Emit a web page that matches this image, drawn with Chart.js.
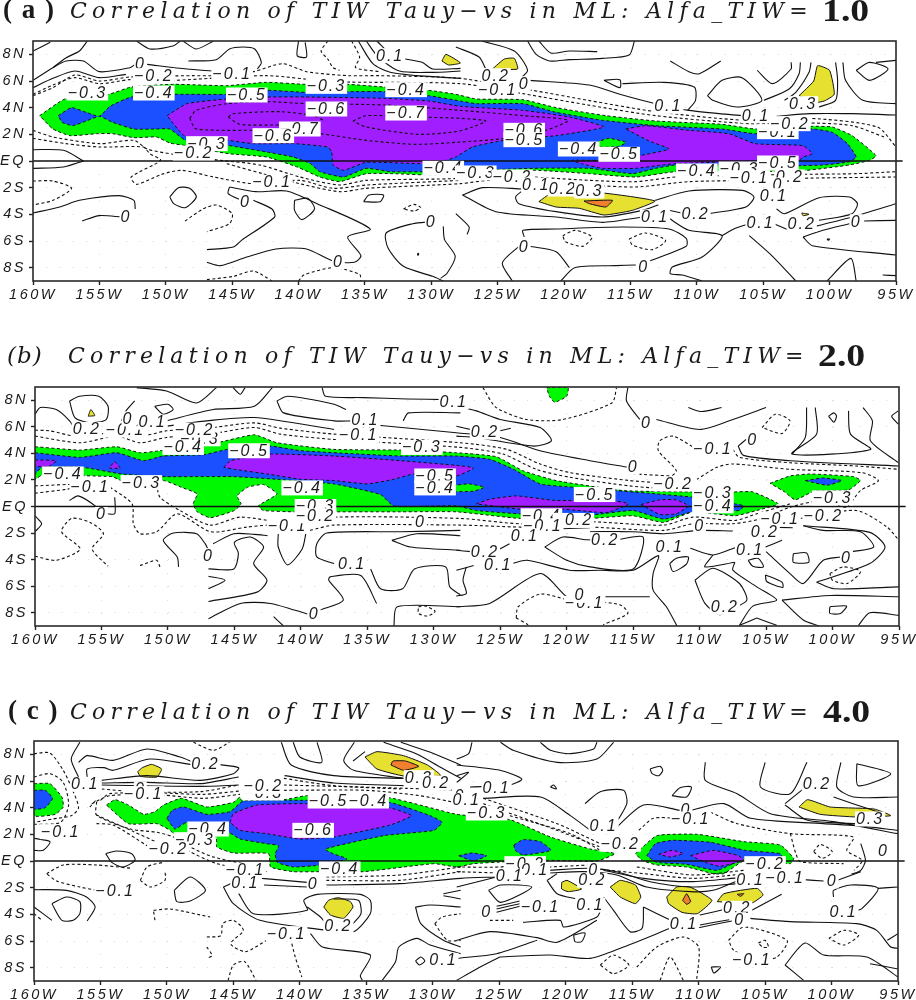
<!DOCTYPE html>
<html><head><meta charset="utf-8">
<script src="https://cdn.jsdelivr.net/npm/chart.js@4"></script>
<style>html,body{margin:0;padding:0;background:#fff;width:916px;height:1000px;overflow:hidden}
canvas{position:absolute;left:0;display:block}</style></head>
<body>
<canvas id="pa" width="916" height="315" style="top:0"></canvas>
<canvas id="pb" width="916" height="316" style="top:340px"></canvas>
<canvas id="pc" width="916" height="310" style="top:690px"></canvas>
<script>
const lonTicks=[160,155,150,145,140,135,130,125,120,115,110,105,100,95];
const latTicks=[8,6,4,2,0,-2,-4,-6,-8];
const latTickLabels=['8N','6N','4N','2N','EQ','2S','4S','6S','8S'];
const eqLine=[160,0,94.5,0];

// ---------- panel (a) ----------
const aTitle=['( a )','Correlation of TIW Tauy\u2212vs in ML: Alfa_TIW=','1.0'];
const aGreen=[[159.5,3.4,157.6,4.65,154.3,5.0,152.6,5.55,149.4,5.75,145.4,5.65,142.4,5.9,139.5,5.75,136.3,5.75,133.6,5.55,130.2,5.3,128.15,5.0,126.6,4.65,123.1,4.6,120.6,4.0,116.85,3.4,113.1,3.0,108.1,2.75,105.6,2.4,101.3,2.6,99.8,2.55,98.3,1.9,96.5,0.4,97,0.05,98.5,-0.3,102.3,-0.75,111.6,-0.8,114.6,-1.2,118.1,-0.95,122.25,-0.7,130,-1.05,132.9,-0.95,134.9,-0.95,136.9,-1.55,138.4,-1.2,140.1,-0.45,142.4,0.3,145.3,0.55,148.5,1.15,149.7,1.35,150.7,1.8,152.4,1.75,154,2.05,155.2,2.05,157.2,1.9,158.5,2.4]];
const aBlue=[[158.1,3.4,157.1,4.0,156,3.65,155,3.35,154.2,4.1,152.6,4.8,149.4,5.0,145.4,5.0,142.4,5.3,139.5,5.15,136.3,5.2,133.5,5.2,130.2,4.9,127.8,4.5,126.6,4.3,123.1,4.3,120.6,3.65,117.1,3.05,113.1,2.65,108.1,2.4,105.6,2.05,101.3,2.4,99.8,2.15,98.65,1.3,98,0.3,98.5,-0.05,100.5,-0.3,102.3,-0.35,111.6,-0.3,113.1,-0.55,114.85,-0.95,118.1,-0.55,122.25,-0.55,130,-0.8,133.1,-0.8,134.9,-0.55,136.6,-1.2,138.4,-0.8,139.1,-0.2,140.4,0.3,142.4,0.67,145.3,1.17,148.5,1.55,149.7,2.4,150.7,2.4,152.4,2.4,154,2.9,155,3.35,156,3.0,157,2.65,157.8,2.9]];
const aPurple=[[149.9,3.4,148.4,4.3,145.4,4.65,142.4,4.8,139.5,4.8,133.5,4.7,130.2,4.5,127.8,4.1,123.1,3.8,119.6,3.3,117,2.55,120.6,1.9,124.5,1.55,126.9,1.05,128.15,0.3,128.9,0.05,130.5,-0.2,134.9,-0.1,136.6,-0.7,137.4,-0.3,137.5,0.67,137.8,1.05,140.3,1.3,143.4,1.3,145.3,1.55,148.6,1.9],[115.35,2.4,113.85,2.65,110.6,2.3,107.6,2.05,105.6,1.3,102,1.15,101.3,0.55,102,0.3,102.3,0.05,105.6,0,111.6,-0.2,112.6,-0.3,114.6,-0.55,117.1,-0.55,118.7,-0.2,119.4,0.05,117.35,0.05,114.35,0.4,112.1,0.9,113.6,1.5]];
const aGreenTop=[[117.6,1.4,116.6,1.7,115.35,1.4,115.85,1.1,117.35,1.05]];
const aYellow=[[125.4,6.9,124.5,7.65,123.75,7.7,123.5,6.9],[129.2,7.5,128.9,8,127.8,7.35,128.7,7.2],[102.3,4.9,101.2,6.0,100.9,7.15,100,6.8,99.65,5.0,100.4,4.5,101,4.4],[121.9,-3.05,121,-2.45,117.1,-2.4,113.15,-3,114.85,-3.7,117,-4.05,118.85,-3.55,120.6,-3.45],[102.1,-3.9,101.55,-4.0,102,-4.1]];
const aOrange=[[118.5,-3,116.35,-2.95,116.85,-3.45,118.1,-3.2]];
const aSolid=[
[160,6.05,158.5,7.0,157.5,7.5,156.2,7.5,155,6.7,152.7,7.0,152.3,7.25],[151.4,7.25,148.4,6.9,146.5,6.75],
[160,8.25,158.7,8.9],[158.5,7,157.5,7.75,156.5,8.25,155.9,9],[152.2,9,151.2,8.4,149.4,8.65,148.9,9],[148.7,9,147.7,8.4,146.4,9],
[148.3,7.5,146.2,7.6,145.2,8.4,144.2,8.55,143.3,8.4,142.8,7.4,143.1,6.9],[140,9,140.1,7.9,139.4,7.8,139.5,8.9],
[135.5,9,134.4,7.3,133.1,6.65,131.1,6.4,127.8,6.2],[134.9,9,134,7.8,132.4,6.75,129.9,6.65,127.8,6.75],[134.1,9,132.9,7.9,130.7,7.4,129.9,6.9,127.8,6.95],[128.15,8.55,126.4,7.8,125.9,6.9],
[160,5.5,158.5,6.2,156.85,6.75,155,6.25,153,6.5],
[122.75,9,122.1,8,121.1,7.5,119.6,7.6,117.1,7.7,115.1,7.95,114.7,9],[121.9,9,121,8.1,119.6,8.25,117.5,8.2],[126.2,9,123.75,8.25,122.75,6.8,123.4,6.1],
[122.6,6.05,118.1,5.7,115.6,4.95,113.1,4.3,110.6,3.8,106.6,3.4,105.5,3.3],[104,3.35,101.5,3.55,98.3,3.55,95,3.45],
[112,7.5,110.6,6.7,109.8,6.55,108.2,7.5],[115.6,5.8,112.5,5.9,110.2,5.55,110.1,4.55,110.7,3.8],
[105.45,6.8,104.3,5.8,102.9,6.9,102.9,7.4],[104.95,4.55,103.05,5.4,102.3,6.55,102.2,7.4],[103.4,4.55,102.55,5.15,101.55,6.65,101.4,7.4],
[99.55,7.4,99.4,6.05,99.55,4.55,100.8,4.05],[99,7.4,98.8,6.05,97.5,4.55,95,4.3],[96.5,7.4,95,7.55],
[156.2,0,157.7,0.8,160,0.85],[156.2,0,157.7,-0.45,160,-0.55],
[160,-3.9,158,-3.45,156.5,-2.95,153.5,-2.6,152.4,-2.95,152.3,-3.6],[156.3,-4.5,155,-4.1,153.3,-4.2],
[145.2,-1.95,145.3,-2.45,144.3,-2.95],[143.4,-2.95,142,-3.6,141.8,-4.2,144.3,-5.95,144.9,-6.45,146.9,-6.65],
[145.2,-1.95,143.2,-2.3,140.9,-2.25,138.6,-3.2,134.6,-5.1,136.3,-5.7,135.3,-7.1,135.8,-7.6,137.4,-7.5,139.4,-6.6,141.7,-6.6,143.9,-7.2,145.9,-7.85,146.9,-7.6],
[130,-4.55,131.4,-4.7,133.4,-5.4,133.25,-6.55,132.1,-7.9,129.9,-8.65,129.1,-9],[129.1,-4.9,129,-5.9,128.2,-7.15,128.8,-8.4,129.3,-8.8],
[127.65,-2.55,126.15,-2,123.1,-2.1],[127.65,-2.55,125.15,-3.8,120.6,-4.2,117.1,-4.6,114.1,-4.2],[123.1,-2.2,123.65,-2.7,123.4,-3.2,120.6,-3.8,117.1,-4.2,114.1,-3.7,112.9,-3.3],
[112.1,-3.7,110.9,-3.95],[109.1,-3.95,106.3,-3.45,105.7,-2.7,106.55,-2.2,110.6,-2.25,113.15,-2.95],
[112.1,-4.3,110.6,-5.2,108.1,-5.6,109.6,-7.2,111.85,-7.95,112,-8.45,111.1,-8.55,109.6,-9],[108.1,-5.6,107.1,-5.05,106.05,-4.7],
[104.2,-4.7,103.05,-5.2],[104,-3.6,103.4,-3.95,100.8,-2.75,98.5,-2.7,97.9,-3.2,98.3,-3.95,100.8,-4.45],[102.3,-5.2,98.3,-4.2,95,-3.2],
[102,-5.7,100.5,-5.2,98.5,-4.7],[97.4,-4.5,95,-4.45],[102,-5.7,101.3,-6.35,95,-7.05],
[106.05,-5.6,104.3,-7.15,102.55,-9],[100.2,-9,98.4,-7.3,98,-9],[96,-8.55,95,-8.6],
[123,-5.7,123.1,-5.2,120.6,-5.1,115.6,-4.95,112.1,-5.1,110.8,-5.8,110.8,-6.4,114.1,-7.7],[114.6,-7.8,116.1,-7.85,119.2,-8,120.25,-9],[122.6,-6.4,120.6,-6.8,119.6,-8],
[123.9,-9,124.65,-7.65,123.4,-6.4],[128.15,-3.95,127.15,-4.95,127.3,-5.5]
];
const aLoops=[[149.7,-2.7,149.05,-2,148.2,-2.05,147.7,-2.7,148.55,-3.5,149.4,-3.2],[140.3,-2.95,139.3,-2.8,138.8,-3.6,139.75,-4.4,140.3,-3.7],[135.1,-3.05,134.7,-2.55,133.6,-2.55,133.85,-3.05],[117,6.05,115.8,6.1,115.8,5.5],[109.2,4.9,108.1,6.05,106.6,6.25,105.1,4.55,107,4.05,108.8,4.55],[98,6.8,97,7.4,95.6,6.9,97,6.05],[131.05,-7,131,-6.93,130.95,-7,131,-7.07],[100.2,-5.85,100,-5.85,100.1,-5.95]];
const aDashed=[
[160,5.0,158.5,5.7,156.85,6.25,155,5.8,152.7,6.1,149.4,6.05,142.4,6.4,137.4,5.95,127.8,5.8,123.1,5.05,118.2,4.2,113.1,3.4,106,2.8,101.5,2.85,98.3,2.65,95.9,1.8],
[160,4.9,158.5,5.5,156.85,6.45,155,6.0,152.7,6.3,148,6.4,146.4,6.4,143.4,6.7,141.2,7.3,139.4,6.7,136.3,6.4,133.9,6.4,127.8,6.2,123.4,5.4,122.4,5.3,118.2,4.55,113.1,3.7,106.3,3.05,101.5,3.2,96.4,2.55,95,1.05],
[148.2,3.2,147.7,3.8,145.4,4.3,142.4,4.45,139.4,4.3,133.5,4.2,127.8,3.8,123.1,3.4,119.7,3.05,121.4,2.3,124.4,1.7,128.15,1.4,131.2,1.25,134.9,1.55,138.4,2.05,141.4,2.3,147.7,2.4,148.2,3.2],
[145.3,3.3,144.9,3.55,141.4,3.7,138.9,3.4,138,3],[145.3,3.3,144.4,2.75,141.4,2.7],
[135.9,3.0,134.9,3.4,131.2,3.3,127.8,3.2,125.9,3.0,126.9,2.55,128.15,2.2,131,2,134.9,2.55,135.9,3],
[160,2.3,158.5,1.8,155,1.3,152.4,1.55,151.4,0.9,149.4,0.5,145.9,0.05,142.9,-0.3,139.9,-1.2,136.9,-1.8,134.9,-1.45,127.8,-1.3,125.6,-0.95,122.25,-1.2,118.1,-1.45,114.6,-1.55,111.6,-1.2,105.6,-1.05,102.3,-1,98,-0.95,95,-0.8],
[160,1.7,157.5,1.3,155,1.05,151.7,1.05,151.2,0.55,150.4,0.05,152.6,-1.2,152.2,-1.75,150.3,-1,148.8,-0.7,146.4,-1.2,143.4,-1.7,139.9,-1.45,137.4,-2.05,134.9,-1.8,127.8,-1.45],
[145.4,-0.2,142.7,-0.95,139.9,-1.7,136.9,-2.3,134.9,-2.05,127.8,-1.7,125.6,-1.45,122.25,-1.55,118.1,-1.8,114.6,-1.95,110.6,-1.55,105.6,-1.45,102.3,-1.3,95,-1.2],
[160,-1.5,158.5,-1.5,157.1,-2.05,158.5,-2.95,160,-3.3],[148.55,-4.5,147.2,-3.6,146.2,-3.3,145,-3.95,145.2,-4.7,146.9,-5.3],
[146.9,-8.9,144.9,-8.65,143.4,-8.25,142,-9],[140,-9,139.6,-8.55,137.4,-8,135.4,-8.5,135.3,-9],[137.8,9,138.3,8.25,137.8,7.65,137.4,7,136.9,6.8],[136,9,135.4,7.8,135.7,7,133.9,6.7]
];
const aDashLoops=[[132.1,-3.6,131.3,-3.25,130.8,-3.5,131.3,-3.75],[120.1,-5.6,119.2,-5.2,117.9,-5.7,118.6,-6.4,119.9,-6.05],[115.1,-5.85,113.9,-5.4,112.35,-5.95,113.35,-6.65,114.85,-6.3]];
const aLabels=[[151.9,7.3,'0'],[150.9,6.4,'-0.2'],[145,6.5,'-0.1'],[155.9,5.1,'-0.3'],[150.9,5.1,'-0.4'],[143.9,4.95,'-0.5'],[137.9,5.6,'-0.3'],[137.9,3.9,'-0.6'],[131.9,5.35,'-0.4'],[131.9,3.6,'-0.7'],[139.9,2.4,'-0.7'],[141.9,1.9,'-0.6'],[146.9,1.3,'-0.3'],[147.9,0.6,'-0.2'],[133.1,7.9,'0.1'],[142,-1.6,'-0.1'],[144,-3.05,'0'],[153,-4.2,'0'],[130,-4.55,'0'],[137,-7.55,'0'],[129.1,-0.55,'-0.4'],[125.15,6.4,'0.2'],[123,5.8,'0'],[125,5.35,'-0.1'],[112.15,4.1,'0.1'],[105.55,3.4,'0.1'],[102,4.3,'0.3'],[103.9,2.2,'-0.1'],[103,2.8,'-0.2'],[123,2.3,'-0.6'],[123,1.6,'-0.5'],[118.9,0.9,'-0.4'],[115.85,0.5,'-0.5'],[106.8,-0.6,'-0.3'],[110,-0.75,'-0.4'],[103.9,-0.15,'-0.5'],[103,-1.2,'0.2'],[106.05,-1.25,'-0.1'],[103.9,-1.8,'0'],[104.2,-2.6,'0.1'],[126.65,-0.9,'-0.3'],[123.9,-1.2,'-0.2'],[122.1,-1.8,'0.1'],[120.1,-2.1,'0.2'],[118.1,-2.25,'0.3'],[113.15,-4.2,'0.1'],[110.1,-4,'0.2'],[105.2,-4.65,'0.1'],[102.1,-4.75,'0.2'],[98,-4.55,'0'],[123,-6.45,'0'],[114,-7.95,'0']];

// ---------- panel (b) ----------
const bTitle=['(b)','Correlation of TIW Tauy\u2212vs in ML: Alfa_TIW=','2.0'];
const bGreen=[[160,4.5,156.6,4.25,153.85,4.5,152.1,4.05,150.6,4.2,147.3,4.65,146.3,4.8,143.5,5.4,141.8,4.8,137.5,4.3,132.5,4.25,128.3,4.05,125.3,3.75,123.3,2.7,120.8,1.95,115.75,1.2,110.7,1.1,107.35,1.1,106,1.1,104.1,0.2,105.7,-0.3,107.35,-0.7,110.5,-0.4,112.7,-1.2,115,-0.7,118.25,-0.9,123.5,-0.9,128.3,-0.4,132.5,-0.4,137.3,-0.4,140.5,-0.4,142.8,-0.3,143.2,0.05,141.8,0.95,142.8,1.65,144,1.45,144.8,0.8,144.5,0.2,145,-0.3,146.8,-0.85,147.8,-0.4,148.1,0.2,147.8,0.95,149,1.45,150.3,1.95,153.5,1.95,154.2,2.25,159.5,2.35,160,2.05],[121.5,8.95,119.9,8.95,120,8.3,120.9,7.85,121.3,8.3],[104.7,1.75,103.2,2.3,101.7,2.45,98.4,2.25,97.9,1.95,98.8,1.25,101.4,1.15,102.8,0.5,103.6,1.1]];
const bBlue=[[160,4.05,156.6,3.7,153.85,4.05,151.85,3.45,150.35,3.8,147.3,3.9,145.55,4.3,142.3,4.55,140,4.2,132.5,3.8,128.3,3.8,125.8,3.55,124,2.8,122,1.7,119.5,1.45,113.25,0.95,110.5,0.7,107.35,0.2,106.7,0.05,107,-0.3,110.5,-0.4,112.7,-0.95,115,-0.3,118.25,-0.65,123.5,-0.55,126.8,-0.3,128.3,0.05,133,0.02,134,0.9,137.5,1.7,141.8,2.05,145.1,2.25,150.1,2.25,153.5,2.45,156.4,2.95,159.5,2.95,160,2.45],[102.05,1.95,100.7,2.15,99.3,1.95,100.4,1.6]];
const bPurple=[[160,3.5,158.4,3.45,159,3,160,3.05],[154,3.4,153.6,2.9,154.4,2.9],[145.8,2.95,145.3,3.45,142.3,3.95,137.5,3.8,132.5,3.45,128.3,3.1,127,2.9,128.3,2.3,131.5,2.45,133,2.05,135,1.7,137.5,1.95,140,2.05,142.55,2.45,145,2.8],[126.8,0.2,125.8,0.55,123.8,0.8,120.8,0.45,117,0.5,115.35,0.2,117,-0.45,120.3,-0.2,123.5,-0.2],[114.4,0.15,113,0.5,111.75,0.5,110.85,0.05,111.75,-0.55,113,-0.6]];
const bGreenTop=[[129,1.55,127.3,1.7,126.2,1.45,127,1.15,129,1.15]];
const bYellow=[[156,6.8,155.8,7.3,155.5,6.85]];
const bOrange=[];
const bSolid=[
[160,6.95,159.6,7.45,158.4,7.3,157.4,6.45,157,5.8],[157.4,7.95,156.65,8.3,155.2,8.3,154.5,7.55,154.65,6.55,155.85,6.3,157,6.7,157.4,7.95],[153.5,6.45,153.15,7.2,152.5,7.95],
[152.35,8.95,150.1,8.7,147.85,7.8,146.35,8.95],[150.1,6.45,146.6,7.3,143.5,7.55,142.15,8.95],[145.1,8.95,144.55,8.45,144.2,8.95],
[141.8,7.95,141.3,7.05,137.5,6.45,136.05,6.45],[141.8,7.95,141,8.3,137.5,7.7,136.6,7.3],[138.4,8.95,138.15,8.3,135.3,8.2,132,8.1,129,8.05],[132.3,6.45,131.9,7.05,128,7.05],[134.95,6.2,128.3,5.55,125,5.2,122,4.2,118.25,3.45,115.35,2.95],[150.1,6.05,147.1,6.45,143.5,6.7,137.5,5.8],
[128.3,7.55,126.8,7.2,125,6.55,122,5.95,121.15,4.95,122.5,4.55,126.8,5.2,128.3,5.3],[128.3,6.05,127,5.75],[125,5.7,124.2,5.9],
[115.4,8.95,115.5,7.95,114.5,6.55],[113.25,6.55,110,5.8,107.5,6.55,105,7.45],[110.85,7.45,109.85,7.15,108.35,7.45],
[103.05,3.95,102.05,5.2,101.95,7.45],[101.3,7.45,101.2,5.45,103.05,3.95,97.15,4.3,98.65,5.45,98.8,7.2],[97.7,7.45,97,6.45,97.15,4.95,95.05,3.3],[95.05,7.2,95.55,6.8,95.05,6.2],
[107.1,4.55,106.7,3.85,103.2,3.45,95,3.05],[107.1,4.55,106.5,5.05],
[157.4,0.45,156.75,0.8,155.35,-0.05,155.1,-0.5],[154.6,-0.55,154,-0.55,154,0.7],[160,-0.7,159.5,-1.3,160,-1.9],
[149.2,-4.55,149.3,-3.8,150.35,-2.55,149.6,-2,147.85,-2.05,147.2,-2.8,146.95,-3.3],[146.6,-2.8,145.05,-2.05,143.5,-2.1,142.5,-2.2],
[146.95,-4.7,145.05,-4.7,144.7,-3.55,145,-2.7,143.8,-2.3,142.8,-3.05,143.55,-4.3,142.55,-5.55,143.3,-6.45,146.95,-7.15],[146.95,-5.25,145.7,-5.55,146.95,-6.2],
[146.95,-8.45,144.55,-7.3,142.3,-7.3,139.5,-8.1],[138.55,-7.8,136.8,-7.05,137.9,-5.55,137.8,-5.3,135.5,-5.2,134.3,-7.3],
[141.7,-2.05,141.7,-3.05,141,-4.4,139.9,-3.2,139.6,-1.9],[137.5,-4.3,138.8,-3.8,138.8,-2.8,138.05,-2,132.5,-1.9,128,-1.8],
[134.75,-4.7,134,-6.2,132.35,-6.2,131.45,-4.7,129.1,-4.55,128.8,-6.05,128,-6.65],[133,-9,132.75,-7.55,128,-7.55],[133.15,-2.55,131.3,-2.05,128,-2.2],[133.15,-2.55,131.75,-3.05,128,-3.3],[141.3,-9,142.05,-8.3],
[128.3,-3.3,127.2,-3.4],[125.2,-3.3,124.3,-2.8],[128.3,-4.8,127,-4.45],[124.15,-4.3,123,-4.05,119.8,-4.8,117.5,-4.8,115,-4.8,113.1,-3.7,113.5,-5.05,113.5,-6.3,112.5,-7.55,111.7,-9],
[128.3,-7.55,125.8,-7.3,122,-5.05,120,-6.8,119.4,-6.8],[127.55,-4.55,127.8,-5.55,127.55,-6.55,128.3,-6.75],[118.65,-6.9,117,-6.8,113.75,-6.8],
[110.7,-3.15,109,-3.65,107.2,-3.05],[109,-3.65,109.6,-4.55,107.35,-4.2],[107.35,-4.2,107.5,-4.8,105.7,-6.05,104.2,-7.05,106,-7.5,107,-8.95],[105.7,-8.4,104.2,-8.95],[107,-8.95,105.7,-8.4],
[105.05,-3.05,103.8,-2.55],[105,-3.4,103.2,-5.05,102.2,-5.8,100.7,-4.05,99.4,-3.8],[102.2,-1.45,100.7,-1.8,97.9,-1.9,96.9,-3.05,98.5,-3.4],[101.2,-5.7,97.2,-4.3,96.05,-3.05,97.2,-1.95,102.2,-1.45],
[103.8,-7.05,102.2,-8.55,101,-9],[103.8,-7.05,100.2,-6.7,95,-6.8],[101.2,-5.7,99.9,-6.2,95,-6.05],[98.05,-8.95,97.2,-8,95,-8.2],
[118.25,-1.6,123.5,-1.8],[107.5,-1.85,110,-1.8,112.7,-2.05,115,-1.9,118.25,-1.9],[105.05,-1.55,103,-1.6]
];
const bLoops=[[151,7.55,150,7.7,149.6,7.3,150.35,6.95],[100.3,6.8,99.9,7.05,99.7,6.8,99.9,6.35],[121.65,-3.05,120.3,-2.3,118.5,-2.5,116.25,-2.5,114.25,-2.3,115,-4.7,118.25,-4.55,120,-4.05],[112.25,-4.3,111.75,-3.9,110.85,-3.8,111,-4.35,112,-4.9],[110.35,-5.55,109,-4.65,107,-5.8,106.45,-7.05,107.5,-7.7,108.5,-8.15,109.6,-7.3],[106.35,-4.05,105.6,-3.9,105.2,-4.55,106,-4.5],[105.05,-5.15,103.8,-5.7,103.75,-6.1,104.95,-5.65],[102.95,-3.55,101.95,-3.5,101.8,-4.2,102.95,-4.2],[100.2,-7.55,98.95,-7.5,99.4,-8.05,100.2,-8.05]];
const bDashed=[
[160,5.75,158.9,5.7,157,5.3,155.1,5.45,153.85,5.75,152.1,5.3,150.1,5.7,146.6,5.95,143.5,6.3,141.55,5.9,137.5,5.45,128,4.8,124.5,4.3,122,3.2,119.75,2.55,115.25,1.95,113.2,1.8],
[160,5.3,156.6,4.8,153.85,5.3,152.1,4.8,150.1,5.2,146.6,5.5,143.5,5.95,141.55,5.45,137.5,5.05,128,4.45,124.8,3.95,122.3,2.8,119.75,2.2,115.25,1.55,110.7,1.2],
[160,1.55,156.6,1.7],[160,1,157.6,1.3,156.5,1.5],[154.35,1.45,152.7,0.2,152.6,-1.3,152.1,-2.05,150.85,-1.9,149.3,-0.55,146.8,-1.9,144.05,-1.55,142.55,-1.4],
[150.85,1.7,150.6,0.7,149.1,-0.3,146.8,-1.4,144.55,-0.8,140.5,-1.3,137.3,-0.8,128,-0.9,123.5,-1.3,118.25,-1.15,112.7,-1.4,110.5,-0.8,107.35,-1.05,105.7,-0.55,103.2,0.2],
[139.3,-1.8,137.5,-1.4,128,-1.4,123.5,-1.55,118.25,-1.55,112.7,-1.8,110.5,-1.3,107.5,-1.3,105.3,-0.9,103.2,-0.05,100.7,0.45,99,-0.05,97.9,1.2,96.55,1.95,97.8,2.55,103.2,2.8,107.5,3.2,108.7,2.95,110.2,2.05],
[102.45,-0.9,98.2,-0.3,95.9,-1.55,95,-2.55],[110.2,4.3,112,5.3,113,4.95,113.1,4.2,111.75,2.7,112.2,2.2],[115,2.45,112.2,2.3],
[107.5,4.3,107,3.7,103.2,3.3,98.2,3.05,95,2.8],
[160,-3.75,158.4,-4.05,156.6,-3.2,158,-1.9,157.25,-0.9,155.85,-1.2,154.85,-2.05,155.7,-3.2,154.5,-4.5],[152.1,-4.45,150.85,-4.05,150.6,-4.55],
[126.3,8.95,125.3,7.45,123,6.55,120.3,6.55,116.6,7.8,116.25,8.95],[123.8,-8.4,123.65,-7.55,122,-6.6,120,-7],[123.8,-8.4,122.9,-8.9],[118.5,-7.1,116,-7.4,115.4,-8.05,117.25,-8.9]
];
const bDashLoops=[[131.15,-7.55,130.65,-7.5,129.9,-7.9,130.5,-8.25,131.15,-8.05],[105.3,5.95,104.3,6.95,103.2,6.45,103.8,5.5],[100.2,-5.05,99.2,-4.55,97.9,-4.9,98.9,-5.8,100,-5.55]];
const bLabels=[[156.1,5.8,'0.2'],[153.2,5.75,'-0.1'],[153,6.6,'0'],[151.15,6.35,'0.1'],[147.6,5.1,'-0.3'],[148,5.75,'-0.2'],[148.85,4.45,'-0.4'],[143.9,4.2,'-0.5'],[135,5.8,'0'],[135.15,6.5,'0.1'],[135.65,5.35,'-0.1'],[128.5,7.9,'0.1'],[130.9,4.45,'-0.3'],[129.9,2.3,'-0.5'],[129.9,1.4,'-0.4'],[139.9,1.4,'-0.4'],[157.9,2.45,'-0.4'],[155.85,1.5,'-0.1'],[152,1.8,'-0.3'],[155,-0.6,'0'],[146.95,-3.7,'0'],[141,-1.5,'-0.1'],[138.9,0,'-0.3'],[138.9,-0.7,'-0.2'],[131,-1.2,'0'],[136.15,-4.3,'0.1'],[139,-8.1,'0'],[126.15,5.6,'0.2'],[115,2.95,'0'],[114,6.3,'0'],[109,4.3,'-0.1'],[106,5,'0'],[112,1.7,'-0.2'],[109,1,'-0.3'],[109,0.05,'-0.4'],[117.9,0.9,'-0.5'],[100,0.65,'-0.3'],[100.7,-0.75,'-0.2'],[103.95,-0.95,'-0.1'],[105.1,-1.9,'0.2'],[110,-1.5,'0'],[121.9,-0.7,'-0.4'],[119.5,-1.05,'-0.2'],[121.8,-1.5,'-0.1'],[123.15,-2.2,'0.1'],[117.1,-2.5,'0.2'],[112.25,-3.05,'0.1'],[106.2,-3.3,'0.1'],[98.95,-3.85,'0'],[126.15,-3.4,'0.2'],[125.15,-4.4,'0.1'],[118.65,-7.3,'-0.1'],[119,-6.7,'0'],[108.1,-7.6,'0.2']];

// ---------- panel (c) ----------
const cTitle=['( c )','Correlation of TIW Tauy\u2212vs in ML: Alfa_TIW=','4.0'];
const cGreen=[[160,5.8,158.8,5.8,157.9,4.8,157.8,4.05,158.4,3.5,160,3.4],[154.55,4.2,153.9,4.6,152.9,4.2,151.75,3.5,150.9,3.7,150.25,4.2,148.9,4.7,147,4.05,145,4.4,144.5,4.8,144.4,4.55,141.2,4.6,139.5,4.9,133.3,4.75,128.2,3.5,124.2,3.1,121.15,1.8,118.15,0.9,116.3,0.55,117.65,0,121.3,0.05,124.4,-0.05,126.95,-0.2,128.2,-0.45,129.9,-0.2,135.2,-0.8,138.5,-0.8,140.5,-0.8,142.2,-0.45,142.35,0.55,145,0.6,146.25,1.05,146.3,1.8,149.5,2.05,149.75,2.3,150.75,2.8,152.9,2.8],[114.75,0.55,113.15,1.9,110.1,2,106.6,1.45,103.85,1.2,102.85,0.2,103.1,-0.2,106.5,0.05,108.1,-0.95,108.9,-0.95,110.9,-0.45,113.15,-0.3,114.25,0.05]];
const cBlue=[[160,5.3,159.15,5.3,158.6,4.7,159.15,4,160,3.9],[150,3.2,149.6,3.8,148.75,4.05,147,3.5,145.25,3.7,144.25,4.5,139.5,4.55,133.3,4.4,130.2,3.4,129.3,2.9,129.9,2.3,133.7,1.9,138.1,0.9,137.5,0.55,136.45,0.15,138.45,-0.3,140.5,-0.45,141.7,-0.1,141.85,0.55,141.6,1.15,142.5,1.3,144.5,1.65,145.35,2.15,148.5,2.9,149.4,2.4],[128.05,0.4,127.05,0.6,125.95,0.4,126.95,0],[123.9,1.2,123.2,1.6,121.9,1.45,121.1,0.8,123.2,0.45,123.8,0.8],[113.9,0.4,113.25,1.3,111.9,1.55,109.1,1.4,106.5,0.8,103.85,0.55,103.75,0.15,106.5,0.2,108.6,-0.7,110.9,-0.25,113.15,-0.1]];
const cPurple=[[145.25,2.9,145,3.55,143.2,4.2,139.5,4.3,133.3,4,131.6,3.4,133.2,2.7,137.45,1.8,140,1.65,142.5,2.05,144.5,2.3],[113,0.5,112,0.8,111.15,0.55,112.15,0.3],[110.6,0.4,108.9,0.8,107,0.4,106.6,0.05,108.4,-0.4,109.5,-0.1]];
const cGreenTop=[];
const cYellow=[[152.2,6.7,151.85,7,151.15,7.25,150.4,6.9,150.75,6.3,152,6.35],[135.1,7.8,134.2,8.2,132.2,7.9,130.4,7.2,129.4,6.4,132.05,6.35,134.2,6.9],[138.2,-3.45,137.85,-2.95,137.1,-2.75,136.2,-3.05,136,-3.45,136.7,-4.3,137.7,-4.05],[120.3,-1.6,119.9,-1.45,118.8,-2.1,119.8,-2.3,120.3,-2.1],[116.65,-1.95,115.9,-1.45,114.75,-1.8,114.35,-2.7,114.75,-3.2,115.9,-2.7],[112.4,-2.7,111.65,-1.95,110.65,-1.95,109,-2.95,110.1,-3.95,111.25,-3.85,112.25,-3.2],[108.6,-3.05,108.1,-2.45,105.6,-2.05,105.15,-2.55,106,-3.15],[102.45,4.05,101.8,4.6,100.1,4.05,96.8,3.9,95.55,3.4,98.1,3.3,100.85,3.5]];
const cOrange=[[133.15,7.2,133,7.5,132.05,7.5,131.05,7.1,132.2,6.8],[111.2,-2.95,110.9,-2.45,110.6,-3.05,110.9,-3.25],[107.1,-2.5,106.6,-2.45,106.85,-2.65]];
const cSolid=[
[156.55,8.9,157.2,7.65,156.65,6.3],[156.65,7.4,156,7.9,154.05,7.55,151.5,8.4,149,7.8,148,7.4],[156,6.3,156,6.9,154.75,7,154.05,6.8,151.3,7.65,148,7.2],[146.25,7.25,144.6,7,145,6.55,147.5,6.05,151.5,6.4,154.9,6.05],[154.9,5.85,151.5,5.9,147.5,5.8,144.6,6.3],[144.6,5.7,147.5,5.6,154.9,5.7],
[141.4,8.9,140.65,7.2,137.45,6.4,132.2,6.2],[140.5,8.9,140,7.8,138.35,7.4,138.7,8.9],[135.9,8.9,136.7,7.55,135.95,6.8,132.2,6.2],[133.7,8.9,131.25,8.05,129.45,7.05,127.9,6.2],[132.4,8.9,129.9,8.05,127.9,7.2],[141.15,6.4,137.45,5.85,132.2,5.65],[135.1,8.2,136,7.5],
[160,1.7,158.8,1.45,159.3,0.8,160,0.8],[160,-2.15,157.55,-2.2,156.05,-2.7,155.4,-3.45,156,-4.5],[160,-3.45,158.65,-4.45],
[145.75,-1.95,145,-3.2,143,-4.45,138,-5.2],[145.75,-1.95,145,-1.6],[144.6,-2.45,143.5,-3.95,139.45,-3.7,139.7,-2.95,138.7,-2.5,135.45,-2.5,134.7,-2.95,134.7,-3.95,135.95,-5.3,137.7,-5.2],[139.45,-3.45,138.45,-4.2,138.1,-4.6],[137.45,-2.85,135.6,-2.95,135.4,-3.95,136,-4.7],
[142.85,-1.3,139.45,-1.6],[142.7,-1.8,139.45,-1.95],[138,-1.8,132.5,-1.7,127.9,-1.3,125.2,-1.2],
[139.2,-5.45,138.3,-6.45,134.7,-7.05,135.45,-8.6,135.3,-8.95],[133.8,-8.95,132.8,-7.55,132.55,-6.45,131.2,-5.8,130.2,-6.3,127.9,-6.95],[131.3,-3.45,130.9,-4.7,129.2,-5.95,127.9,-6.45],[131.3,-3.45,130.2,-3.3,127.9,-3.45],[129.2,-2.45,127.9,-2.2],[129.2,-2.6,127.9,-2.85],
[128.2,6.4,127.3,6.65,128.2,5.9],[127.05,8.9,127.3,8.05,128.2,7.65],[124.9,8.9,123.95,8.3,120.65,7.4,117.65,7.65,116.4,8.9],[121.9,8.9,121.15,8.3,119.65,8.05,117.9,8.4,117.65,8.9],[127.2,5.55,124.2,5.7,123.3,6.15,124.95,6.8,128.2,7.2],
[126.2,4.7,121.9,4.8,119.65,3.4,118.15,2.3],[118.55,4.3,117.4,5.2,115.65,5.3,115.4,4.3,116.4,2.55],[116.4,2.3,114.15,4.2,111.4,3.8],
[109.5,7.4,109.5,6.05,107.1,5.05,104.6,3.55,99.85,2.95,95,2.05],[110.6,3.8,108.1,4.3,106.1,3.2,100.6,2.8,98.1,2.65,95,2.3],[105,7.4,105.35,5.55,103.1,5.05,101.85,7.4],[103.5,4.3,102,5.5],[103.5,4.2,101.8,3.05,98.1,2.8],[99.3,7.4,99.6,5.55,98.35,4.8,95,4.8],[99.85,4.8,98.1,4.2,96.1,3.55],
[121.3,-0.7,118.15,-0.55,116.15,-0.8,113.65,-1.55,110.6,-1.95,107.1,-1.7],[121.3,-0.9,118.65,-0.8,116.15,-1.05,113.9,-1.95,110.6,-2.3,108.9,-2.2,107.1,-1.5],[117.15,-0.7,114.15,-1.3,110.6,-1.55,106.85,-1.25],
[97.8,1.3,97.45,0.05,97.8,-0.7,98.5,-1],[102.1,-1.4,100.6,-1.5],[99.55,-1.45,97.8,-0.8],[99.85,-2.7,99.85,-2.2,98.55,-1.8,96.5,-2.05,97.7,-3.55,98.5,-3.85],[109.9,-4.05,107.7,-3.55],[106,-3.7,103.75,-2.5],
[106.1,-4.3,103.1,-4.55,98.1,-4.7,96.6,-5.2,95.55,-6.45,95,-6.55],[95.8,-5.95,95,-5.45],[107.7,-4.4,109.9,-4.8],[110,-5,107.5,-4.5],
[114.15,-3.45,114.25,-5.05,115.15,-5.3,116.4,-3.7,117.15,-2.7],[114.15,-3.45,112.1,-4.45],[125.2,-3.6,123.45,-3.2],[125.2,-3.85,123.45,-3.4],[125.2,-3.4,123.45,-3],
[128.2,-1.95,125.2,-1.2],[121.4,-1.45,120.65,-2.45,119.15,-2.85],[121.4,-1.45,120.65,-0.95],[123.2,-4.6,120.4,-4.45,120.15,-4.95,117.65,-4.2,117.3,-3.45],
[128.2,-5.95,125.7,-5.3,122.15,-5.75,120.65,-6.1,117.65,-4.45],[128.2,-7.3,125.2,-6.95,122.15,-5.95],[124.95,-7.2,121.15,-7.05,118.15,-7.3,115.65,-6.45,112.15,-5.05],[128.2,-8.95,126.7,-8.1,124.95,-7.2],
[103.5,-7.8,102,-6.15,100.6,-7.05,97.35,-7.2,95,-8.7],[103.5,-7.8,102.1,-8.95],[97.1,-7.7,95,-8.1],[96.5,-2.05,95,-1.95]
];
const cLoops=[[154.6,0.55,153.8,0.75,152.65,0.55,152.4,0.05,153.3,-0.45,154.15,-0.1],[158.65,-3.2,157.55,-2.7,156.55,-3.05,156.55,-3.95,157.05,-4.45,157.9,-4.45],[149.45,-2.2,148.25,-1.2,147.1,-2.2,148.25,-3,149.25,-3.05],[131.3,-7.5,130.9,-7.2,130.6,-7.5,131,-7.8],[121.15,5.55,120.9,5.7,120.7,5.4],[113.65,6.9,112.9,7.1,112.7,6.8,113,6.4,113.5,6.55],[112,4.9,111.4,5.5,110.55,5.55,110.9,4.8],[98.1,7.3,95.55,6.55,98,5.65],[96.35,0.55,95.8,0.9,95.95,0.45],[125.8,-2.2,124.9,-1.8,122.55,-1.95,124.9,-3.1],[119.4,-5.55,118.55,-5.4,118.8,-6.05,119.3,-6.05],[109.05,-7.95,108.35,-7.95,108.85,-8.4]];
const cDashed=[
[160,8.05,158.8,8.1,157.8,6.8,157.2,5.55,156.65,4,157.2,3.4,158.6,3.15,160,2.9],[160,6.3,158.8,6.55,157.8,5.9,157.4,4.2,158,2.9,160,2.75],
[154.9,5.4,152.5,5.2,147.5,5.2,144.6,5.7],[155,4.55,154.3,5.05,150.5,5.1,147.25,5,144.5,5.25],[155.65,4.3,154.3,4.9,150.5,4.95,147.25,4.7,144.5,5],
[155.8,4.05,155.3,4.55,155.3,3.45,152.75,2.4,150.75,2.15,149.5,1.8,148.25,1.05,146.5,0.3,143,-0.45],[155.3,3.45,152.5,2.2,150.75,1.4],[148.5,0.8,146.25,-0.2,142.5,-0.8],[155.3,2.8,154.05,2.7,151.5,1.15],
[159.05,-0.95,157.8,-0.3,155.3,-0.3,152.65,-0.55],[155.3,-2.2,156.55,-1.95,158.3,-1.5,159.05,-0.95],[152,-1.45,151.5,-0.45,150.3,-0.1],[152,-1.45,151.25,-1.95,150.15,-1.45,150.15,-0.7],[160,-3.95,159.4,-4.45],
[151,-3.7,149.75,-3.6,146.75,-4.2],[151,-3.8,150.9,-4.45],[147,-5.7,145.95,-5.6,145.8,-4.7,145,-4.45,144.25,-5.2,145.2,-6.2,144.1,-6.8,142.5,-5.95],[147,-6.45,146.6,-7.1,147,-7.3],[145.4,-8.95,145,-7.8,144.15,-7.55,143.3,-8.95],[140.7,-5.8,140.35,-7.2,139.85,-8.7],
[141.2,5.7,132,5.45,127.9,5.3],[141.2,5.3,135,5.3,131,4.9,127.9,4.3],[141.2,6.2,137.45,5.65,132.4,5.4],
[138,-1.2,132.5,-1.05,127.9,-0.45],[138,-1.45,132.5,-1.45,127.9,-0.8],[128.2,-0.45,124.95,-0.45,123.45,-0.2],[128.2,-0.8,124.95,-0.9],
[121.3,-0.45,118.15,-0.3],[118.15,-0.55,114.15,-0.95,110.4,-1.3,106.85,-1],[114.65,-0.45,110.4,-1.05,106.6,-0.7],
[129.85,-4.7,129.3,-4.2,127.9,-3.95],[129.85,-4.7,128.9,-5.95,127.9,-5.95],[148,8.9,146.5,8.3,145.3,8.9],[125.7,-4.45,123.95,-4.45],
[109.1,3.65,107.1,2.8,103.1,2.05,98.35,1.8,98.85,0.8,97.7,0.05,98.3,-0.7],[114.5,2.3,113.4,3.2,111.5,3.2],
[126.2,4.7,120.65,2.8,117.4,1.3],[126.2,4.3,120.65,2.3,117.4,1.05],[124.2,3.4,119.65,2.05,117.4,0.8],[103.1,2.05,102.7,0.6,102.35,-0.05,99.1,-0.2],
[114.65,-7.95,113.15,-6.45,111.15,-5.7,110,-6.45,110.15,-8.95],[112.9,-8.95,112.15,-7.2,111.15,-8.95]
];
const cDashLoops=[[101.35,0.7,100.85,1.25,99.95,0.7,100.7,0.2],[117.4,-7.8,116.4,-7.05,115.25,-7.8,116.4,-8.45],[107.75,-5.95,106.6,-4.95,103.35,-5.95,104.1,-7.2,105.5,-7.4,107.35,-6.7],[105.5,-6.15,105,-5.95,104.75,-6.45,105.2,-6.45],[100.2,-5.8,99.05,-5.2,97.95,-5.55,99.05,-6.3]];
const cLabels=[[147.1,7.25,'0.2'],[156.15,5.75,'0.1'],[152,5.4,'0'],[151.75,5.05,'-0.1'],[142.75,5.1,'-0.3'],[142.75,5.6,'-0.2'],[137.85,4.5,'-0.5'],[134.85,4.5,'-0.4'],[139,2.3,'-0.6'],[146.9,2.4,'-0.4'],[147.9,1.6,'-0.3'],[149.9,0.9,'-0.2'],[158,2.2,'-0.1'],[153.9,-2.25,'-0.1'],[144.1,-0.7,'-0.1'],[144.1,-1.65,'0.1'],[139,-1.7,'0'],[137,-0.6,'-0.4'],[137.1,-4.9,'0.2'],[141,-5.45,'-0.1'],[129.2,-7.45,'0.1'],[131.05,6.25,'0.3'],[129.75,5.85,'0.2'],[127.95,4.9,'0'],[127.45,4.55,'0.1'],[125.95,3.6,'-0.3'],[125.2,5.5,'0.1'],[123.05,-0.2,'-0.2'],[122.3,-0.7,'0.1'],[124.2,-1.15,'0.1'],[125.95,-3.8,'0'],[121.9,-3.45,'-0.1'],[118.15,-3.3,'0.1'],[118,-1.45,'0.2'],[117.9,-0.7,'0'],[117.15,2.65,'0.1'],[115.9,1.25,'-0.2'],[110.95,3.85,'0'],[110.6,3.15,'-0.1'],[101.1,5.8,'0.2'],[97.1,3.15,'0.3'],[96.1,0.75,'0'],[99.95,-1.5,'0'],[99.1,-3.85,'0.1'],[105,-0.2,'-0.2'],[106.1,-1.45,'0.1'],[103.5,-1.25,'-0.1'],[107.1,-3.55,'0.2'],[106.9,-4.4,'0'],[111.1,-4.75,'0.1'],[106,-7.4,'-0.1']];

const COL={green:'#00f800',blue:'#1a50ff',purple:'#a01eff',yellow:'#e6e030',orange:'#f08030'};
const INK='#111';
const toPts=a=>{const o=[];for(let i=0;i+1<a.length;i+=2)o.push({x:a[i],y:a[i+1]});return o;};
const closed=a=>a.concat(a.slice(0,2));
function fillDs(a,col,dash){return{type:'scatter',showLine:true,data:toPts(closed(a)),fill:'shape',backgroundColor:col,borderColor:INK,borderWidth:1,borderDash:dash,pointRadius:0,tension:0.15};}
function lineDs(a,dash,opt){const d={type:'scatter',showLine:true,data:toPts(a),fill:false,borderColor:INK,borderWidth:1.1,borderDash:dash,pointRadius:0,tension:0.25};return Object.assign(d,opt||{});}

const panelPlugin={id:'panelText',
 beforeDraw(ch){ch.ctx.letterSpacing='2.5px';},
 afterDatasetsDraw(ch,args,o){
  const c=ch.ctx,xs=ch.scales.x,ys=ch.scales.y;
  c.save();
  c.font='italic 16px "Liberation Sans"';c.letterSpacing='2px';c.textAlign='center';c.textBaseline='middle';
  o.labels.forEach(l=>{const t=l[2].replace('-','\u2212'),x=xs.getPixelForValue(l[0]),y=ys.getPixelForValue(l[1]),w=c.measureText(t).width+2;
   c.fillStyle='#fff';c.fillRect(x-w/2,y-7.5,w,15);c.fillStyle='#1c1c1c';c.fillText(t,x,y+0.5);});
  c.restore();
 },
 afterDraw(ch,args,o){
  const c=ch.ctx,a=ch.chartArea;
  c.save();c.strokeStyle='#2a2a2a';c.lineWidth=1.6;c.strokeRect(a.left,a.top,a.right-a.left,a.bottom-a.top);
  c.textBaseline='alphabetic';c.textAlign='left';c.fillStyle='#1a1a1a';
  c.font=o.tagFont;c.letterSpacing=o.tagSpacing;c.fillText(o.title[0],o.tagX,o.base);
  c.font='italic 22px "DejaVu Serif"';c.letterSpacing=o.spacing;c.fillText(o.title[1],o.titleX,o.base);
  c.save();c.translate(o.valX,o.base+3);c.scale(1.22,1);c.font='bold 31px "Liberation Serif"';c.letterSpacing='0px';c.fillText(o.title[2],0,0);c.restore();
  c.restore();
 }};

function makePanel(id,P){
 const ds=[];
 ds.push(lineDs(eqLine,[],{clip:false,borderWidth:1.4,tension:0}));
 P.dashLoops.forEach(a=>ds.push(lineDs(closed(a),[3,2.5])));
 P.dashed.forEach(a=>ds.push(lineDs(a,[3,2.5])));
 P.loops.forEach(a=>ds.push(lineDs(closed(a),[])));
 P.solid.forEach(a=>ds.push(lineDs(a,[])));
 // paint order: the first dataset is painted last, so upper colour classes come first
 P.orange.forEach(a=>ds.push(fillDs(a,COL.orange,[])));
 P.yellow.forEach(a=>ds.push(fillDs(a,COL.yellow,[])));
 P.greenTop.forEach(a=>ds.push(fillDs(a,COL.green,[3,2.5])));
 P.purple.forEach(a=>ds.push(fillDs(a,COL.purple,[3,2.5])));
 P.blue.forEach(a=>ds.push(fillDs(a,COL.blue,[3,2.5])));
 P.green.forEach(a=>ds.push(fillDs(a,COL.green,[3,2.5])));
 const cv=document.getElementById(id);
 const axisFont={family:'"Liberation Sans"',size:14.5,style:'italic'};
 new Chart(cv,{type:'scatter',data:{datasets:ds},plugins:[panelPlugin],options:{
  responsive:false,animation:false,events:[],
  layout:{padding:{top:P.top,right:P.right,left:0,bottom:0}},
  plugins:{legend:{display:false},tooltip:{enabled:false},
   panelText:{labels:P.labels,title:P.title,base:P.base,tagX:P.tagX,titleX:P.titleX,valX:P.valX,spacing:P.spacing,tagFont:P.tagFont,tagSpacing:P.tagSpacing}},
  scales:{
   x:{type:'linear',reverse:true,min:95,max:160,
    afterBuildTicks:s=>{s.ticks=lonTicks.map(v=>({value:v}));},
    afterFit:s=>{s.height=cv.height-P.bottom;},
    ticks:{callback:v=>v+'W',font:axisFont,color:'#1a1a1a',maxRotation:0,autoSkip:false,padding:1},
    grid:{color:'#d8d8d8',lineWidth:1,tickColor:'#222',tickLength:4,tickBorderDash:[],tickWidth:1.4,drawOnChartArea:true},
    border:{display:false,dash:[1,12.3]}},
   y:{type:'linear',min:-9,max:9,
    afterBuildTicks:s=>{s.ticks=latTicks.map(v=>({value:v}));},
    afterFit:s=>{s.width=P.left;},
    ticks:{callback:v=>latTickLabels[latTicks.indexOf(v)],font:axisFont,color:'#1a1a1a',autoSkip:false,padding:3},
    grid:{color:'#d8d8d8',lineWidth:1,tickColor:'#222',tickLength:4,tickBorderDash:[],tickWidth:1.4,drawOnChartArea:true},
    border:{display:false,dash:[1,12.3]}}
  }}});
}
makePanel('pa',{title:aTitle,labels:aLabels,green:aGreen,blue:aBlue,purple:aPurple,greenTop:aGreenTop,yellow:aYellow,orange:aOrange,solid:aSolid,loops:aLoops,dashed:aDashed,dashLoops:aDashLoops,top:41,bottom:281,left:33,right:20,base:18,tagX:3,titleX:70,valX:822,spacing:'5.25px',tagFont:'bold 27px "Liberation Serif"',tagSpacing:'1.5px'});
makePanel('pb',{title:bTitle,labels:bLabels,green:bGreen,blue:bBlue,purple:bPurple,greenTop:bGreenTop,yellow:bYellow,orange:bOrange,solid:bSolid,loops:bLoops,dashed:bDashed,dashLoops:bDashLoops,top:47,bottom:286,left:35,right:17,base:23,tagX:7,titleX:68,valX:818,spacing:'5.2px',tagFont:'italic 23px "DejaVu Serif"',tagSpacing:'1px'});
makePanel('pc',{title:cTitle,labels:cLabels,green:cGreen,blue:cBlue,purple:cPurple,greenTop:cGreenTop,yellow:cYellow,orange:cOrange,solid:cSolid,loops:cLoops,dashed:cDashed,dashLoops:cDashLoops,top:51,bottom:291,left:34,right:18,base:29,tagX:8,titleX:70,valX:823,spacing:'5.25px',tagFont:'bold 27px "Liberation Serif"',tagSpacing:'1.5px'});
</script>
</body></html>
